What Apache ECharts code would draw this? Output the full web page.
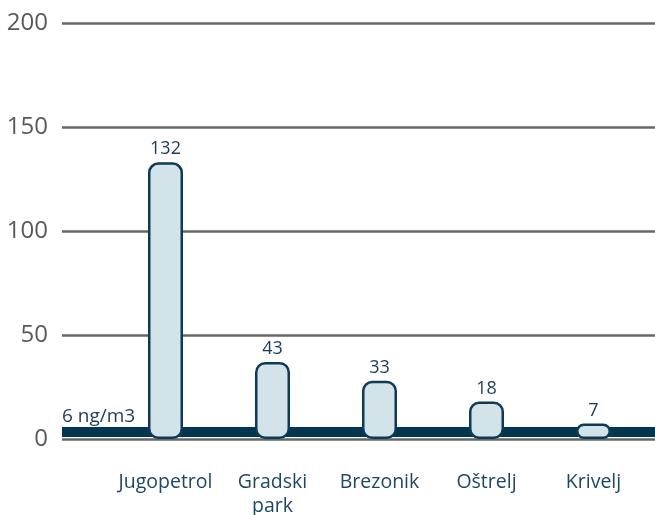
<!DOCTYPE html>
<html>
<head>
<meta charset="utf-8">
<script src="https://cdn.jsdelivr.net/npm/echarts@6/dist/echarts.min.js"></script>
<style>
  html, body { margin: 0; padding: 0; background: #fff; }
  #chart { width: 655px; height: 515px; }
</style>
</head>
<body>
<div id="chart"></div>
<script>
// data
const categories = ['Jugopetrol', 'Gradski\npark', 'Brezonik', 'Oštrelj', 'Krivelj'];
const barValues = [133, 37, 28, 18, 7.5];       // bar heights as drawn
const valueLabels = ['132', '43', '33', '18', '7']; // numbers printed above bars
const yTicks = [0, 50, 100, 150, 200];
const limitValue = 3.5;                         // dark band
const limitLabel = '6 ng/m3';

const font = 'Open Sans';
const chart = echarts.init(document.getElementById('chart'));

chart.setOption({
  animation: false,
  grid: [
    // background grid: gridlines, y labels, limit band
    { left: 62, right: 0, top: 23, height: 416, outerBoundsMode: 'none', containLabel: false },
    // bars
    { left: 112, right: 8, top: 23, height: 416, outerBoundsMode: 'none', containLabel: false }
  ],
  xAxis: [
    { gridIndex: 0, type: 'value', show: false, min: 0, max: 1 },
    {
      gridIndex: 1,
      type: 'category',
      data: categories,
      axisLine: { show: false },
      axisTick: { show: false },
      axisLabel: {
        interval: 0,
        margin: 31,
        color: '#1d4862',
        fontFamily: font,
        fontSize: 19.5,
        lineHeight: 24
      }
    }
  ],
  yAxis: [
    {
      gridIndex: 0,
      type: 'value',
      min: yTicks[0],
      max: yTicks[yTicks.length - 1],
      interval: yTicks[1] - yTicks[0],
      axisLine: { show: false },
      axisTick: { show: false },
      axisLabel: {
        margin: 14,
        color: '#595959',
        fontFamily: font,
        fontSize: 24
      },
      splitLine: { lineStyle: { color: '#666666', width: 2.5 } }
    },
    {
      gridIndex: 1,
      type: 'value',
      show: false,
      min: yTicks[0],
      max: yTicks[yTicks.length - 1]
    }
  ],
  series: [
    {
      type: 'line',
      xAxisIndex: 0,
      yAxisIndex: 0,
      data: [],
      markLine: {
        z: 1,
        silent: true,
        symbol: 'none',
        lineStyle: { color: '#033650', width: 10, type: 'solid' },
        label: {
          position: 'insideStartTop',
          formatter: limitLabel,
          color: '#1b3a55',
          fontFamily: font,
          fontSize: 19,
          distance: [0, 6]
        },
        data: [{ yAxis: limitValue }]
      }
    },
    {
      type: 'bar',
      xAxisIndex: 1,
      yAxisIndex: 1,
      z: 3,
      data: barValues,
      barWidth: 35,
      itemStyle: {
        color: '#d3e3ea',
        borderColor: '#0e3a55',
        borderWidth: 2.5,
        borderRadius: 9
      },
      label: {
        show: true,
        position: 'top',
        distance: 4,
        color: '#1b3a55',
        fontFamily: font,
        fontSize: 18,
        formatter: p => valueLabels[p.dataIndex]
      }
    }
  ]
});
</script>
</body>
</html>
